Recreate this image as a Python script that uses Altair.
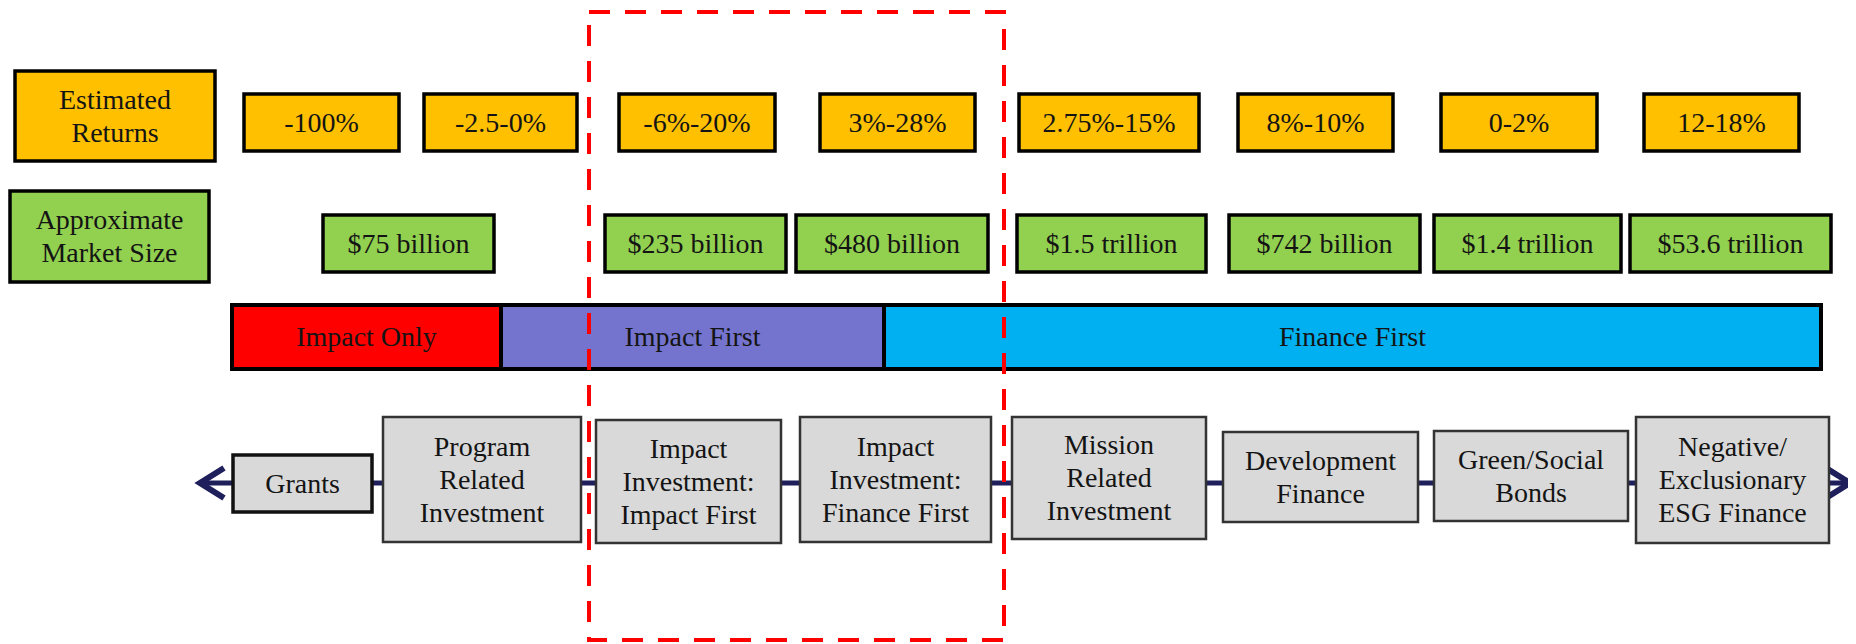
import altair as alt
import pandas as pd

# ---------------- texts (data) ----------------
row_headers = ["Estimated\nReturns", "Approximate\nMarket Size"]
estimated_returns = ["-100%", "-2.5-0%", "-6%-20%", "3%-28%", "2.75%-15%", "8%-10%", "0-2%", "12-18%"]
market_sizes = ["$75 billion", "$235 billion", "$480 billion", "$1.5 trillion",
                "$742 billion", "$1.4 trillion", "$53.6 trillion"]
approaches = ["Impact Only", "Impact First", "Finance First"]
instruments = ["Grants", "Program\nRelated\nInvestment", "Impact\nInvestment:\nImpact First",
               "Impact\nInvestment:\nFinance First", "Mission\nRelated\nInvestment",
               "Development\nFinance", "Green/Social\nBonds", "Negative/\nExclusionary\nESG Finance"]

# ---------------- layout (pixel boxes: left, right, top, bottom) ----------------
header_boxes = [(15, 215, 71, 161), (10, 209, 191, 282)]
returns_x = [(244, 399), (424, 577), (619, 775), (820, 975), (1019, 1199), (1238, 1393), (1441, 1597), (1644, 1799)]
returns_y = (94, 151)
market_x = [(323, 494), (605, 786), (796, 988), (1017, 1206), (1229, 1420), (1434, 1621), (1630, 1831)]
market_y = (215, 272)
approach_x = [(232, 501), (501, 884), (884, 1821)]
approach_y = (305, 369)
instrument_boxes = [(233, 372, 455, 512), (383, 581, 417, 542), (596, 781, 420, 543), (800, 991, 417, 542),
                    (1012, 1206, 417, 539), (1223, 1418, 432, 522), (1434, 1628, 431, 521), (1636, 1829, 417, 543)]
spectrum_line = (205, 1845, 483)
arrow_pos = [(212, 483), (1838, 483)]
highlight_box = (589, 1004, 12, 640)

# ---------------- styles ----------------
RETURN_FILL = "#FFC000"
MARKET_FILL = "#92D050"
APPROACH_FILLS = ["#FF0000", "#7474CF", "#00B0F0"]
GRAY_FILL = "#D9D9D9"
NAVY = "#1f1f5c"
FONT = "Liberation Serif"
TXT = "#141414"
LINE_H = 33
H = 636

X = alt.Scale(domain=[8, 1848])
Y = alt.Scale(domain=[8, 8 + H], reverse=True)


def box_df(labels, boxes):
    rows = []
    for lab, (l, r, t, b) in zip(labels, boxes):
        n = lab.count("\n")
        rows.append({"label": lab, "x0": l, "x1": r, "y0": t, "y1": b,
                     "xc": (l + r) / 2, "yc": (t + b) / 2 - n * LINE_H / 2 + 1})
    return pd.DataFrame(rows)


def rect_layer(df, fill=None, stroke="#000000", sw=3, color=None):
    kw = dict(stroke=stroke, strokeWidth=sw)
    if fill is not None:
        kw["fill"] = fill
    enc = dict(x=alt.X("x0:Q", scale=X, axis=None), x2="x1:Q",
               y=alt.Y("y0:Q", scale=Y, axis=None), y2="y1:Q")
    if color is not None:
        enc["fill"] = color
    return alt.Chart(df).mark_rect(**kw).encode(**enc)


def text_layer(df, size=28):
    return alt.Chart(df).mark_text(font=FONT, fontSize=size, lineBreak="\n", lineHeight=LINE_H,
                                   align="center", baseline="middle", color=TXT).encode(
        x=alt.X("xc:Q", scale=X, axis=None), y=alt.Y("yc:Q", scale=Y, axis=None), text="label:N")


hdr = box_df(row_headers, header_boxes)
ret = box_df(estimated_returns, [(l, r, returns_y[0], returns_y[1]) for l, r in returns_x])
mkt = box_df(market_sizes, [(l, r, market_y[0], market_y[1]) for l, r in market_x])
apr = box_df(approaches, [(l, r, approach_y[0], approach_y[1]) for l, r in approach_x])
ins = box_df(instruments, instrument_boxes)

layers = []
# header boxes
layers.append(rect_layer(hdr.iloc[[0]], fill=RETURN_FILL, sw=3.5))
layers.append(rect_layer(hdr.iloc[[1]], fill=MARKET_FILL, sw=3.5))
layers.append(text_layer(hdr))
# returns
layers.append(rect_layer(ret, fill=RETURN_FILL, sw=3.5))
layers.append(text_layer(ret))
# market sizes
layers.append(rect_layer(mkt, fill=MARKET_FILL, sw=3.5))
layers.append(text_layer(mkt))
# approach bar
layers.append(rect_layer(apr, sw=4, color=alt.Color("label:N", scale=alt.Scale(domain=approaches, range=APPROACH_FILLS), legend=None)))
layers.append(text_layer(apr))

# spectrum line
line_df = pd.DataFrame([{"x0": spectrum_line[0], "x1": spectrum_line[1], "y": spectrum_line[2]}])
layers.append(alt.Chart(line_df).mark_rule(color=NAVY, strokeWidth=5).encode(
    x=alt.X("x0:Q", scale=X, axis=None), x2="x1:Q", y=alt.Y("y:Q", scale=Y, axis=None)))
arrow_df = pd.DataFrame([{"x": arrow_pos[0][0], "y": arrow_pos[0][1], "dir": "left"},
                         {"x": arrow_pos[1][0], "y": arrow_pos[1][1], "dir": "right"}])
layers.append(alt.Chart(arrow_df[arrow_df.dir == "left"]).mark_point(
    shape="M0.8,-1L-0.8,0L0.8,1", filled=False, stroke=NAVY, strokeWidth=6, size=900, opacity=1).encode(
    x=alt.X("x:Q", scale=X, axis=None), y=alt.Y("y:Q", scale=Y, axis=None)))
layers.append(alt.Chart(arrow_df[arrow_df.dir == "right"]).mark_point(
    shape="M-0.8,-1L0.8,0L-0.8,1", filled=False, stroke=NAVY, strokeWidth=6, size=900, opacity=1).encode(
    x=alt.X("x:Q", scale=X, axis=None), y=alt.Y("y:Q", scale=Y, axis=None)))

# instrument boxes
layers.append(rect_layer(ins.iloc[[0]], fill=GRAY_FILL, stroke="#111111", sw=3.5))
layers.append(rect_layer(ins.iloc[1:], fill=GRAY_FILL, stroke="#333333", sw=2.5))
layers.append(text_layer(ins))

# dashed highlight
hl = pd.DataFrame([{"x0": highlight_box[0], "x1": highlight_box[1], "y0": highlight_box[2], "y1": highlight_box[3]}])
layers.append(alt.Chart(hl).mark_rect(fill="transparent", stroke="#FF0000", strokeWidth=4,
                                      strokeDash=[21, 15]).encode(
    x=alt.X("x0:Q", scale=X, axis=None), x2="x1:Q",
    y=alt.Y("y0:Q", scale=Y, axis=None), y2="y1:Q"))

chart = alt.layer(*layers).properties(
    width=1840, height=H, autosize=alt.AutoSizeParams(type="none"), padding=0,
    background="#ffffff"
).configure_view(stroke=None)

chart.save("out.html", embed_options={"renderer": "svg", "actions": False})
